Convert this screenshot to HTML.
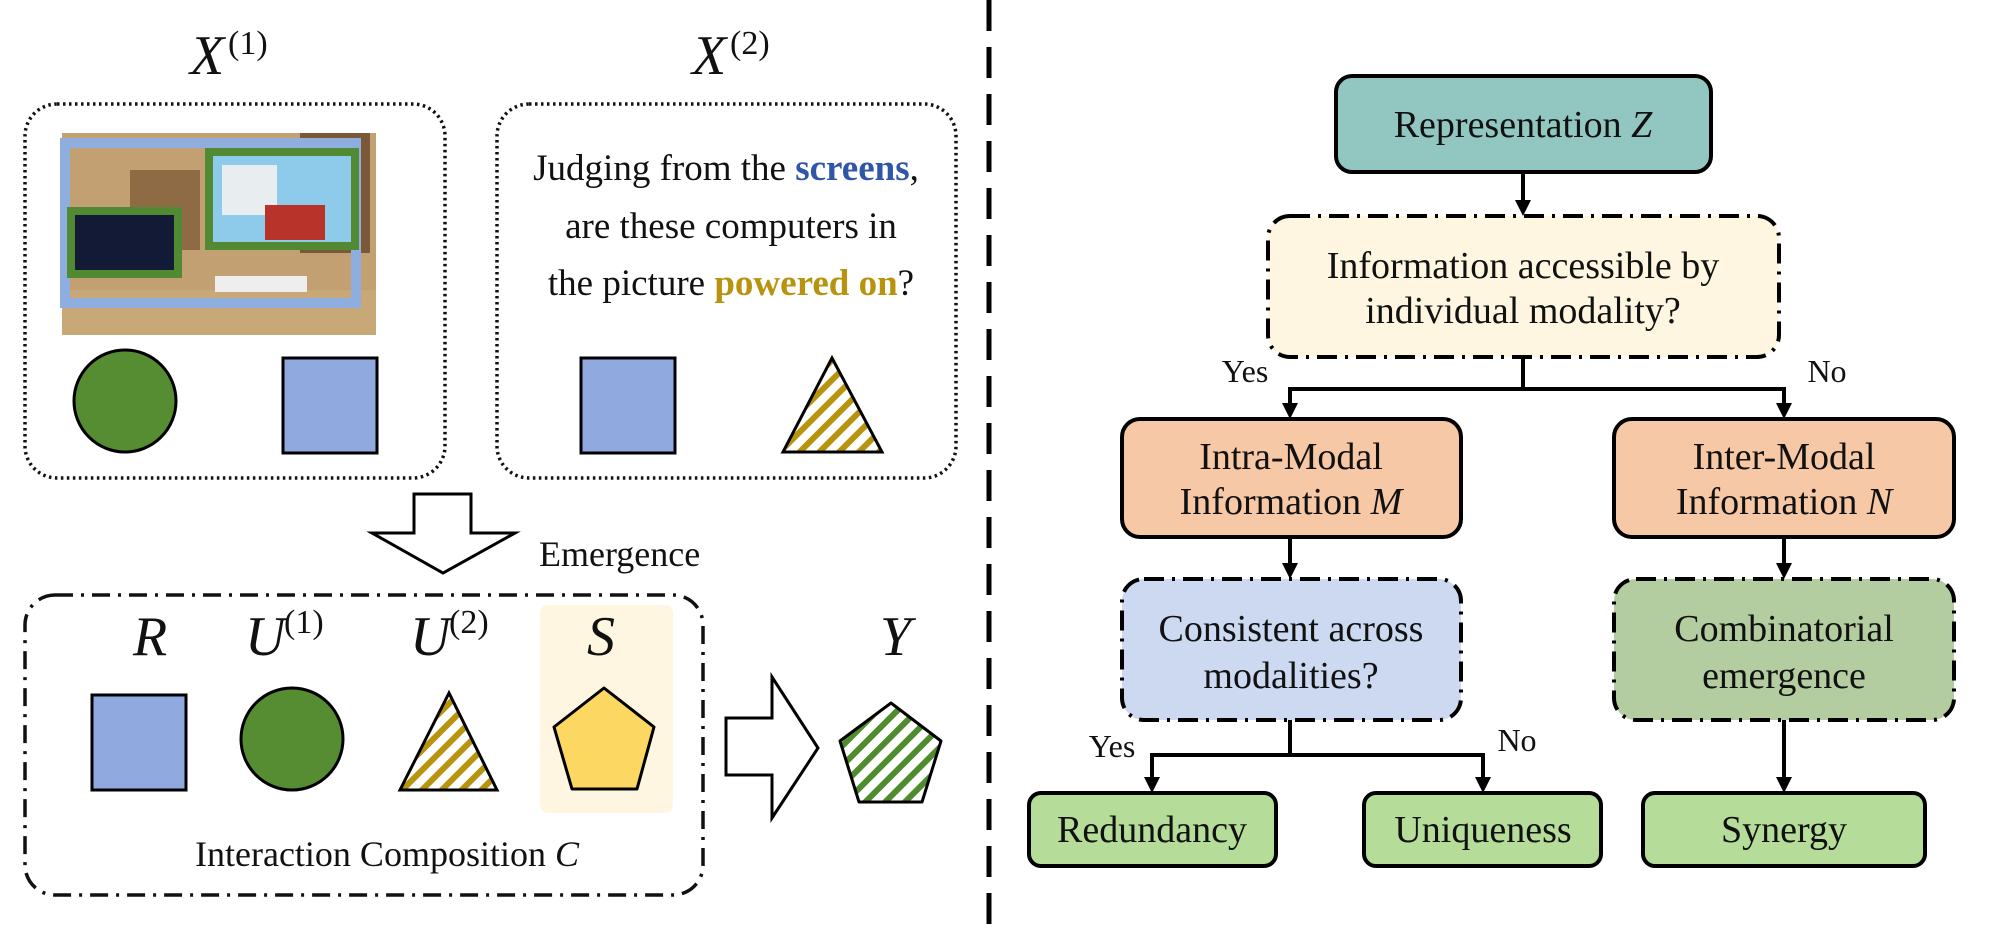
<!DOCTYPE html>
<html><head><meta charset="utf-8"><style>
html,body{margin:0;padding:0;background:#fff;}
svg{display:block;}
text{font-family:"Liberation Serif",serif;fill:#111;}
.it{font-style:italic;}
</style></head><body>
<svg width="1992" height="936" viewBox="0 0 1992 936" xmlns="http://www.w3.org/2000/svg">
<defs>
<pattern id="stY" patternUnits="userSpaceOnUse" width="14" height="14" patternTransform="rotate(45)">
<rect width="14" height="14" fill="#fff"/><rect width="6" height="14" fill="#b8930e"/></pattern>
<pattern id="stG" patternUnits="userSpaceOnUse" width="14" height="14" patternTransform="rotate(45)">
<rect width="14" height="14" fill="#fff"/><rect width="6" height="14" fill="#4f8c2e"/></pattern>
</defs>

<text x="190" y="74" font-size="56" class="it">X</text><text x="228" y="54" font-size="34">(1)</text>
<text x="692" y="74" font-size="56" class="it">X</text><text x="730" y="54" font-size="34">(2)</text>

<rect x="25" y="104" width="420" height="374" rx="32" fill="none" stroke="#111" stroke-width="3.5" stroke-dasharray="2.5 3.5"/>
<rect x="62" y="133" width="314" height="202" fill="#c2a072"/>
<rect x="62" y="290" width="314" height="45" fill="#c9a877"/>
<rect x="130" y="170" width="70" height="80" fill="#8e6a45"/>
<rect x="300" y="133" width="70" height="120" fill="#7a5838"/>
<rect x="65" y="143" width="291" height="160" fill="none" stroke="#8faee0" stroke-width="10"/>
<rect x="213" y="156" width="138" height="86" fill="#8ecbeb"/>
<rect x="222" y="165" width="55" height="50" fill="#e8eef0"/>
<rect x="265" y="205" width="60" height="35" fill="#b8332a"/>
<rect x="209" y="152" width="146" height="94" fill="none" stroke="#528a33" stroke-width="8"/>
<rect x="75" y="215" width="99" height="55" fill="#131a35"/>
<rect x="71" y="211" width="107" height="63" fill="none" stroke="#528a33" stroke-width="8"/>
<rect x="215" y="276" width="92" height="16" fill="#eee"/>
<circle cx="125" cy="401" r="51" fill="#568d33" stroke="#000" stroke-width="3"/>
<rect x="283" y="358" width="94" height="95" fill="#90aae0" stroke="#000" stroke-width="3"/>

<rect x="497" y="104" width="459" height="374" rx="32" fill="none" stroke="#111" stroke-width="3.5" stroke-dasharray="2.5 3.5"/>
<text x="726" y="180" font-size="37" text-anchor="middle">Judging from the <tspan fill="#2f56a8" font-weight="bold">screens</tspan>,</text>
<text x="731" y="238" font-size="37" text-anchor="middle">are these computers in</text>
<text x="731" y="295" font-size="37" text-anchor="middle">the picture <tspan fill="#b8930e" font-weight="bold">powered on</tspan>?</text>
<rect x="581" y="358" width="94" height="95" fill="#90aae0" stroke="#000" stroke-width="3"/>
<polygon points="832,358 783,452 882,452" fill="url(#stY)" stroke="#000" stroke-width="3"/>

<polygon points="414,494 471,494 471,533 515,533 443,573 372,533 414,533" fill="#fff" stroke="#000" stroke-width="3"/>
<text x="539" y="566" font-size="36">Emergence</text>

<rect x="25" y="595" width="678" height="300" rx="30" fill="none" stroke="#111" stroke-width="3.5" stroke-dasharray="18 8 3 8"/>
<rect x="540" y="605" width="133" height="208" rx="8" fill="#fef6e0"/>
<text x="133" y="655" font-size="56" class="it">R</text>
<text x="245" y="655" font-size="56" class="it">U</text><text x="284" y="633" font-size="34">(1)</text>
<text x="410" y="655" font-size="56" class="it">U</text><text x="449" y="633" font-size="34">(2)</text>
<text x="587" y="655" font-size="56" class="it">S</text>
<text x="880" y="655" font-size="56" class="it">Y</text>
<rect x="92" y="695" width="94" height="95" fill="#90aae0" stroke="#000" stroke-width="3"/>
<circle cx="292" cy="739" r="51" fill="#568d33" stroke="#000" stroke-width="3"/>
<polygon points="449,693 400,790 497,790" fill="url(#stY)" stroke="#000" stroke-width="3"/>
<polygon points="604,688 654,727 637,789 572,789 554,727" fill="#fcd862" stroke="#000" stroke-width="3" stroke-linejoin="round"/>
<text x="387" y="866" font-size="36" text-anchor="middle">Interaction Composition <tspan class="it">C</tspan></text>

<polygon points="726,718 772,718 772,677 818,748 772,818 772,775 726,775" fill="#fff" stroke="#000" stroke-width="3"/>
<polygon points="891,703 941,741 922,802 859,802 840,741" fill="url(#stG)" stroke="#000" stroke-width="3" stroke-linejoin="round"/>

<line x1="989" y1="0" x2="989" y2="936" stroke="#000" stroke-width="5" stroke-dasharray="31 16"/>

<g stroke="#000" stroke-width="4" fill="none">
<line x1="1523" y1="172" x2="1523" y2="202"/>
<polyline points="1523,357 1523,389"/>
<polyline points="1290,405 1290,389 1784,389 1784,405"/>
<line x1="1290" y1="537" x2="1290" y2="565"/>
<line x1="1784" y1="537" x2="1784" y2="565"/>
<line x1="1290" y1="720" x2="1290" y2="755"/>
<polyline points="1152,778 1152,755 1483,755 1483,778"/>
<line x1="1784" y1="720" x2="1784" y2="778"/>
</g>
<g fill="#000">
<polygon points="1515,200 1531,200 1523,216"/>
<polygon points="1282,403 1298,403 1290,419"/>
<polygon points="1776,403 1792,403 1784,419"/>
<polygon points="1282,563 1298,563 1290,579"/>
<polygon points="1776,563 1792,563 1784,579"/>
<polygon points="1144,777 1160,777 1152,793"/>
<polygon points="1475,777 1491,777 1483,793"/>
<polygon points="1776,777 1792,777 1784,793"/>
</g>

<rect x="1336" y="76" width="375" height="96" rx="16" fill="#92c6c0" stroke="#000" stroke-width="4"/>
<text x="1523" y="137" font-size="38" text-anchor="middle">Representation <tspan class="it">Z</tspan></text>

<rect x="1268" y="216" width="511" height="141" rx="22" fill="#fef6e0" stroke="#000" stroke-width="4" stroke-dasharray="20 8 3 8"/>
<text x="1523" y="278" font-size="38" text-anchor="middle">Information accessible by</text>
<text x="1523" y="323" font-size="38" text-anchor="middle">individual modality?</text>
<text x="1245" y="382" font-size="32" text-anchor="middle">Yes</text>
<text x="1827" y="382" font-size="32" text-anchor="middle">No</text>

<rect x="1122" y="419" width="339" height="118" rx="18" fill="#f7c8a5" stroke="#000" stroke-width="4"/>
<text x="1291" y="469" font-size="38" text-anchor="middle">Intra-Modal</text>
<text x="1291" y="514" font-size="38" text-anchor="middle">Information <tspan class="it">M</tspan></text>
<rect x="1614" y="419" width="340" height="118" rx="18" fill="#f7c8a5" stroke="#000" stroke-width="4"/>
<text x="1784" y="469" font-size="38" text-anchor="middle">Inter-Modal</text>
<text x="1784" y="514" font-size="38" text-anchor="middle">Information <tspan class="it">N</tspan></text>

<rect x="1122" y="579" width="339" height="141" rx="22" fill="#cdd9f0" stroke="#000" stroke-width="4" stroke-dasharray="20 8 3 8"/>
<text x="1291" y="641" font-size="38" text-anchor="middle">Consistent across</text>
<text x="1291" y="688" font-size="38" text-anchor="middle">modalities?</text>
<rect x="1614" y="579" width="340" height="141" rx="22" fill="#b3cca0" stroke="#000" stroke-width="4" stroke-dasharray="20 8 3 8"/>
<text x="1784" y="641" font-size="38" text-anchor="middle">Combinatorial</text>
<text x="1784" y="688" font-size="38" text-anchor="middle">emergence</text>
<text x="1112" y="757" font-size="32" text-anchor="middle">Yes</text>
<text x="1517" y="751" font-size="32" text-anchor="middle">No</text>

<rect x="1029" y="793" width="247" height="73" rx="12" fill="#b5dc98" stroke="#000" stroke-width="4"/>
<text x="1152" y="842" font-size="38" text-anchor="middle">Redundancy</text>
<rect x="1364" y="793" width="237" height="73" rx="12" fill="#b5dc98" stroke="#000" stroke-width="4"/>
<text x="1483" y="842" font-size="38" text-anchor="middle">Uniqueness</text>
<rect x="1643" y="793" width="282" height="73" rx="12" fill="#b5dc98" stroke="#000" stroke-width="4"/>
<text x="1784" y="842" font-size="38" text-anchor="middle">Synergy</text>
</svg>
</body></html>
